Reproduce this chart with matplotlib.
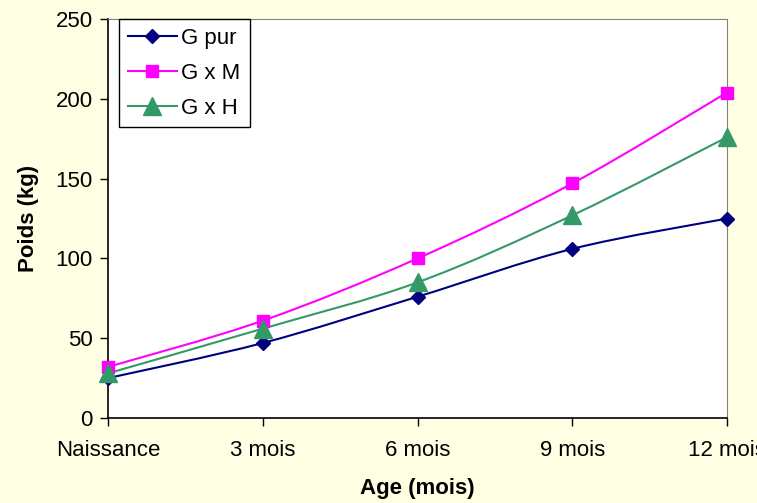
import numpy as np
from matplotlib import pyplot as plt
from matplotlib.path import Path
from matplotlib.patches import PathPatch
from matplotlib.lines import Line2D

plt.rcParams['font.family'] = ['Liberation Sans', 'DejaVu Sans']

ages = ['Naissance', '3 mois', '6 mois', '9 mois', '12 mois']
g_pur = [25, 47, 76, 106, 125]
g_x_m = [32, 61, 100, 147, 204]
g_x_h = [28, 56, 85, 127, 176]

series = [
    ('G pur', g_pur, '#000080', 'D', 7),
    ('G x M', g_x_m, '#FF00FF', 's', 8),
    ('G x H', g_x_h, '#339966', '^', 13),
]


def smooth_path(x, y):
    # Excel-like smoothed line: cubic bezier segments through every point
    pts = np.column_stack([x, y]).astype(float)
    verts = [pts[0]]
    codes = [Path.MOVETO]
    n = len(pts)
    for i in range(n - 1):
        p0 = pts[i - 1] if i > 0 else pts[i]
        p1 = pts[i]
        p2 = pts[i + 1]
        p3 = pts[i + 2] if i + 2 < n else pts[i + 1]
        c1 = p1 + (p2 - p0) / 6.0
        c2 = p2 - (p3 - p1) / 6.0
        verts += [c1, c2, p2]
        codes += [Path.CURVE4] * 3
    return Path(verts, codes)


bg = '#FFFFE3'
fig = plt.figure(figsize=(7.57, 5.03), dpi=100, facecolor=bg)
ax = fig.add_axes([0.1427, 0.169, 0.8177, 0.793])
ax.set_facecolor('white')

x = np.arange(len(ages))
handles = []
for name, vals, col, mk, ms in series:
    ax.add_patch(PathPatch(smooth_path(x, vals), fill=False, edgecolor=col, lw=1.5, zorder=2))
    ax.plot(x, vals, ls='none', marker=mk, color=col, ms=ms, zorder=3, clip_on=False)
    handles.append(Line2D([], [], color=col, lw=1.5, marker=mk, ms=ms, label=name))

ax.set_xlim(0, 4)
ax.set_ylim(0, 250)
ax.set_xticks(x)
ax.set_xticklabels(ages, fontsize=16)
ax.set_yticks(np.arange(0, 251, 50))
ax.tick_params(axis='y', labelsize=16, direction='out', length=6, width=1, pad=5)
ax.tick_params(axis='x', direction='out', length=6, width=1, pad=10)

for s in ['top', 'right']:
    ax.spines[s].set_color('#808080')
for s in ['left', 'bottom']:
    ax.spines[s].set_color('black')
    ax.spines[s].set_linewidth(1.2)

ax.set_ylabel('Poids (kg)', fontsize=16, fontweight='bold', labelpad=12)
ax.set_xlabel('Age (mois)', fontsize=16, fontweight='bold', labelpad=12)

leg = ax.legend(handles=handles, loc='upper left', bbox_to_anchor=(0.018, 1.0),
                fontsize=16, frameon=True, fancybox=False, framealpha=1,
                edgecolor='black', handlelength=2.2, borderpad=0.4, labelspacing=0.62,
                handletextpad=0.2, borderaxespad=0)
leg.get_frame().set_linewidth(1)

plt.savefig('out.png', dpi=100, facecolor=bg)
